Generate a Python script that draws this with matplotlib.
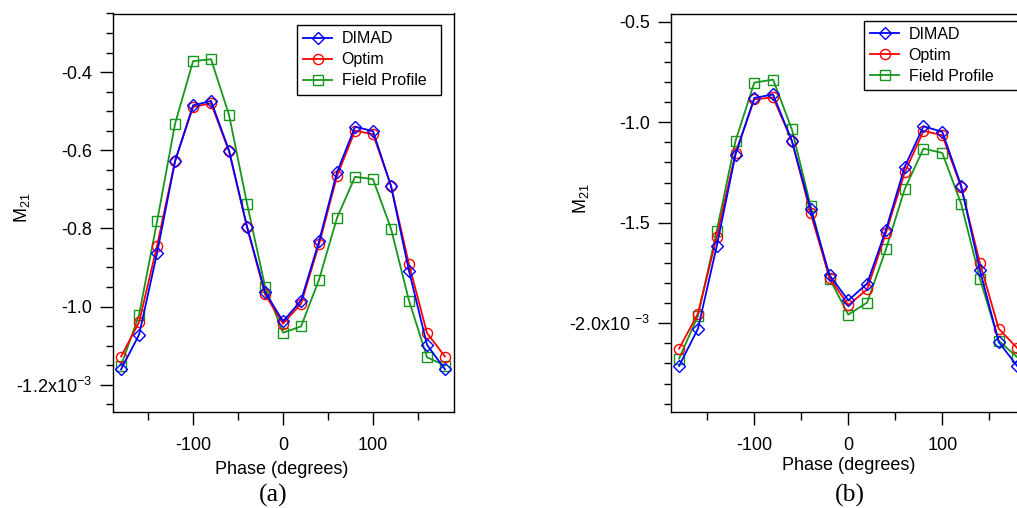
import matplotlib
matplotlib.use('Agg')
import matplotlib.pyplot as plt
import numpy as np
from matplotlib.ticker import FixedLocator, FixedFormatter, MultipleLocator

plt.rcParams['font.family'] = ['Liberation Sans', 'DejaVu Sans']
plt.rcParams['mathtext.fontset'] = 'custom'
plt.rcParams['mathtext.rm'] = 'Liberation Sans'
plt.rcParams['mathtext.it'] = 'Liberation Sans:italic'
plt.rcParams['axes.unicode_minus'] = False

# Фаза, градусы
phase = [-180, -160, -140, -120, -100, -80, -60, -40, -20, 0,
         20, 40, 60, 80, 100, 120, 140, 160, 180]

# (a) M21, единицы 1e-3
dimad_a = [-1.161, -1.072, -0.863, -0.628, -0.485, -0.474, -0.601, -0.796, -0.963, -1.038,
           -0.985, -0.833, -0.656, -0.540, -0.551, -0.692, -0.909, -1.098, -1.161]
optim_a = [-1.128, -1.040, -0.844, -0.627, -0.489, -0.480, -0.603, -0.797, -0.969, -1.044,
           -0.993, -0.841, -0.666, -0.550, -0.559, -0.691, -0.892, -1.068, -1.128]
field_a = [-1.151, -1.021, -0.782, -0.532, -0.372, -0.367, -0.510, -0.737, -0.949, -1.067,
           -1.051, -0.931, -0.773, -0.668, -0.674, -0.801, -0.985, -1.130, -1.151]

# (b) M21, единицы 1e-3
dimad_b = [-2.212, -2.028, -1.617, -1.161, -0.879, -0.862, -1.093, -1.434, -1.761, -1.886,
           -1.803, -1.536, -1.222, -1.020, -1.048, -1.315, -1.736, -2.093, -2.215]
optim_b = [-2.126, -1.952, -1.571, -1.153, -0.886, -0.877, -1.093, -1.454, -1.774, -1.910,
           -1.832, -1.551, -1.250, -1.043, -1.065, -1.322, -1.700, -2.027, -2.125]
field_b = [-2.176, -1.964, -1.541, -1.093, -0.803, -0.788, -1.036, -1.418, -1.778, -1.957,
           -1.897, -1.633, -1.333, -1.131, -1.153, -1.405, -1.778, -2.087, -2.170]

yticks_a = [-1.2, -1.0, -0.8, -0.6, -0.4]
ylabels_a = ['-1.2x10$^{-3}$', '-1.0', '-0.8', '-0.6', '-0.4']
yticks_b = [-2.0, -1.5, -1.0, -0.5]
ylabels_b = ['-2.0x10 $^{-3}$', '-1.5', '-1.0', '-0.5']
xticks = [-100, 0, 100]
xlabels = ['-100', '0', '100']

W, H = 1017, 508
fig = plt.figure(figsize=(W / 100, H / 100), dpi=100)

blue, red, green = '#0000ff', '#ff0000', '#16961a'
fs = 13


def panel(rect, d, o, f, xlim, ylim, yt, yl, yminor, lab_xy, xlab_xy, leg_box, caption, cap_xy):
    ax = fig.add_axes(rect)
    hf, = ax.plot(phase, f, color=green, lw=1.3, marker='s', ms=7.3, mfc='none', mew=1.0)
    ho, = ax.plot(phase, o, color=red, lw=1.3, marker='o', ms=7.3, mfc='none', mew=1.0)
    hd, = ax.plot(phase, d, color=blue, lw=1.3, marker='D', ms=6.3, mfc='none', mew=1.0)
    ax.set_xlim(*xlim)
    ax.set_ylim(*ylim)
    ax.xaxis.set_major_locator(FixedLocator(xticks))
    ax.xaxis.set_major_formatter(FixedFormatter(xlabels))
    ax.xaxis.set_minor_locator(MultipleLocator(50))
    ax.yaxis.set_major_locator(FixedLocator(yt))
    ax.yaxis.set_major_formatter(FixedFormatter(yl))
    ax.yaxis.set_minor_locator(MultipleLocator(yminor))
    ax.tick_params(axis='x', which='major', direction='out', length=9, width=1.0, pad=9, labelsize=fs)
    ax.tick_params(axis='x', which='minor', direction='out', length=5.5, width=1.0)
    ax.tick_params(axis='y', which='major', direction='out', length=9.5, width=1.0, pad=5.5, labelsize=fs)
    ax.tick_params(axis='y', which='minor', direction='out', length=5, width=1.0)
    for s in ax.spines.values():
        s.set_linewidth(1.0)
    ax.set_ylabel('M$_{21}$', fontsize=fs)
    ax.yaxis.set_label_coords(*lab_xy)
    ax.set_xlabel('Phase (degrees)', fontsize=fs)
    ax.xaxis.set_label_coords(*xlab_xy)
    leg = ax.legend([hd, ho, hf], ['DIMAD', 'Optim', 'Field Profile'], loc='upper left',
                    bbox_to_anchor=leg_box, bbox_transform=fig.transFigure, fontsize=11.5,
                    mode='expand',
                    frameon=True, fancybox=False, framealpha=1, edgecolor='black',
                    borderpad=0.4, labelspacing=0.37, handlelength=1.8, handletextpad=0.6,
                    borderaxespad=0)
    leg.get_frame().set_linewidth(1.0)
    fig.text(cap_xy[0], cap_xy[1], caption, family='Liberation Serif', fontsize=18.5,
             ha='center', va='center')
    return ax


panel([113 / W, 1 - 412 / H, 341 / W, 398.5 / H], dimad_a, optim_a, field_a,
      (-189, 190), (-1.27, -0.25), yticks_a, ylabels_a, 0.05,
      (-0.2375, 0.512), (0.4935, -0.122), (297 / W, 1 - 25 / H, 144 / W, 0),
      '(a)', (273 / W, 1 - 495 / H))

panel([671.3 / W, 1 - 411.7 / H, 354 / W, 397.7 / H], dimad_b, optim_b, field_b,
      (-188.3, 188.3), (-2.44, -0.4617), yticks_b, ylabels_b, 0.1,
      (-0.227, 0.535), (0.502, -0.114), (864 / W, 1 - 20.7 / H, 175 / W, 0),
      '(b)', (849.5 / W, 1 - 495 / H))

plt.savefig('out.png', dpi=100)
